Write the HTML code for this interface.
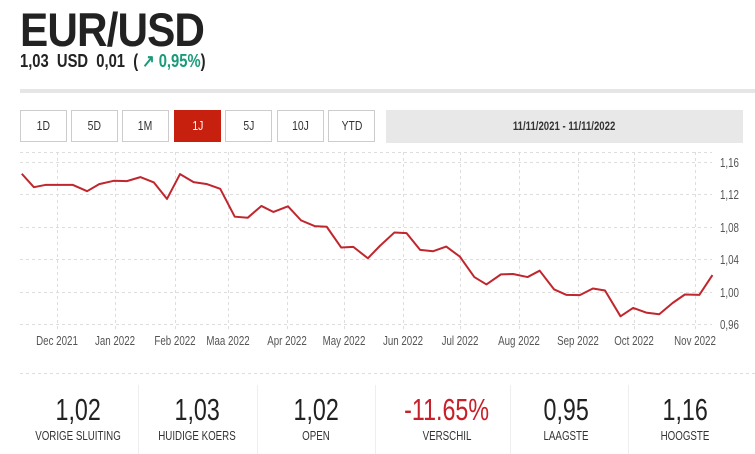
<!DOCTYPE html>
<html><head><meta charset="utf-8"><style>
body{margin:0;width:755px;height:454px;background:#fff;font-family:"Liberation Sans",sans-serif;color:#222;position:relative;overflow:hidden}
.a{position:absolute;white-space:nowrap}
.c{display:inline-block;transform-origin:0 0}
.btn{position:absolute;top:110px;height:32px;width:47px;border:1px solid #ccc;box-sizing:border-box;font-size:13px;text-align:center;line-height:30px;color:#333}
.btn span{display:inline-block;transform:scaleX(.8)}
.st{position:absolute;top:392px;width:118px;text-align:center}
.st .v{font-size:31px;transform:scaleX(.75);display:inline-block;color:#222}
.st .l{font-size:13px;transform:scaleX(.75);display:block;margin-top:0px;color:#333}
.dv{position:absolute;top:385px;height:69px;width:1px;background:#eee}
</style></head><body>
<div class="a" style="left:20px;top:2px;font-size:47px;font-weight:bold;letter-spacing:-1px"><span class="c" style="transform:scaleX(.9)">EUR/USD</span></div>
<div class="a" style="left:20px;top:51px;font-size:18px;font-weight:bold"><span class="c" style="transform:scaleX(.82)">1,03&nbsp; USD&nbsp; 0,01&nbsp; ( <span style="color:#1a9a7a">↗ 0,95%</span>)</span></div>
<div class="a" style="left:20px;top:89px;width:735px;height:4px;background:#e6e6e6"></div>
<div class="btn" style="left:20px"><span>1D</span></div>
<div class="btn" style="left:71px"><span>5D</span></div>
<div class="btn" style="left:122px"><span>1M</span></div>
<div class="btn" style="left:174px;background:#c8200f;border-color:#c8200f;color:#fff"><span>1J</span></div>
<div class="btn" style="left:225px"><span>5J</span></div>
<div class="btn" style="left:277px"><span>10J</span></div>
<div class="btn" style="left:328px"><span>YTD</span></div>
<div class="a" style="left:386px;top:110px;width:357px;height:33px;background:#e8e8e8;text-align:center;line-height:33px;font-size:12px;font-weight:bold;color:#333"><span class="c" style="transform:scaleX(.8);transform-origin:50% 50%">11/11/2021 - 11/11/2022</span></div>
<svg class="a" style="left:0;top:0" width="755" height="454">
<g stroke="#ddd" stroke-dasharray="3,3" stroke-width="1">
<line x1="20" x2="712" y1="152.5" y2="152.5"/>
<line x1="20" x2="712" y1="162.5" y2="162.5"/><line x1="20" x2="712" y1="194.5" y2="194.5"/><line x1="20" x2="712" y1="227.5" y2="227.5"/><line x1="20" x2="712" y1="259.5" y2="259.5"/><line x1="20" x2="712" y1="292.5" y2="292.5"/><line x1="20" x2="712" y1="324.5" y2="324.5"/>
<line x1="57.5" x2="57.5" y1="152" y2="330"/><line x1="115.5" x2="115.5" y1="152" y2="330"/><line x1="175.5" x2="175.5" y1="152" y2="330"/><line x1="228.5" x2="228.5" y1="152" y2="330"/><line x1="287.5" x2="287.5" y1="152" y2="330"/><line x1="344.5" x2="344.5" y1="152" y2="330"/><line x1="403.5" x2="403.5" y1="152" y2="330"/><line x1="460.5" x2="460.5" y1="152" y2="330"/><line x1="519.5" x2="519.5" y1="152" y2="330"/><line x1="578.5" x2="578.5" y1="152" y2="330"/><line x1="634.5" x2="634.5" y1="152" y2="330"/><line x1="695.5" x2="695.5" y1="152" y2="330"/>
<line x1="20" x2="755" y1="373.5" y2="373.5"/>
</g>
<g transform="matrix(0.484 0 0 0.3354 0 148.6)">
<polyline fill="none" stroke="#c0262d" stroke-width="2" vector-effect="non-scaling-stroke" stroke-linejoin="round" points="45,75 70,115 95,108 150,108 180,127 205,106 235,96 262,97 290,85 318,101 345,150 372,76 400,100 428,106 455,120 485,203 512,206 540,171 565,189 595,172 622,214 650,231 675,233 705,295 730,293 760,327 785,290 815,250 840,252 868,302 895,306 922,292 950,322 980,383 1005,405 1035,375 1060,374 1090,383 1115,364 1145,420 1170,436 1198,437 1225,417 1250,423 1282,500 1308,475 1335,489 1362,494 1390,460 1415,435 1445,436 1472,377"/>
</g>
<g font-size="13" fill="#555" font-family="Liberation Sans, sans-serif">
<g transform="translate(720,0) scale(.75,1)"><text x="0" y="167">1,16</text><text x="0" y="199">1,12</text><text x="0" y="232">1,08</text><text x="0" y="264">1,04</text><text x="0" y="297">1,00</text><text x="0" y="329">0,96</text></g>
</g>
<g font-size="13" fill="#555" text-anchor="middle" font-family="Liberation Sans, sans-serif">
<g transform="translate(57,345) scale(.75,1)"><text>Dec 2021</text></g>
<g transform="translate(115,345) scale(.75,1)"><text>Jan 2022</text></g>
<g transform="translate(175,345) scale(.75,1)"><text>Feb 2022</text></g>
<g transform="translate(228,345) scale(.75,1)"><text>Maa 2022</text></g>
<g transform="translate(287,345) scale(.75,1)"><text>Apr 2022</text></g>
<g transform="translate(344,345) scale(.75,1)"><text>May 2022</text></g>
<g transform="translate(403,345) scale(.75,1)"><text>Jun 2022</text></g>
<g transform="translate(460,345) scale(.75,1)"><text>Jul 2022</text></g>
<g transform="translate(519,345) scale(.75,1)"><text>Aug 2022</text></g>
<g transform="translate(578,345) scale(.75,1)"><text>Sep 2022</text></g>
<g transform="translate(634,345) scale(.75,1)"><text>Oct 2022</text></g>
<g transform="translate(695,345) scale(.75,1)"><text>Nov 2022</text></g>
</g>
</svg>
<div class="dv" style="left:138px"></div><div class="dv" style="left:257px"></div><div class="dv" style="left:375px"></div><div class="dv" style="left:510px"></div><div class="dv" style="left:628px"></div>
<div class="st" style="left:19px"><span class="v">1,02</span><span class="l">VORIGE SLUITING</span></div>
<div class="st" style="left:138px"><span class="v">1,03</span><span class="l">HUIDIGE KOERS</span></div>
<div class="st" style="left:257px"><span class="v">1,02</span><span class="l">OPEN</span></div>
<div class="st" style="left:388px"><span class="v" style="color:#c8202a">-11.65%</span><span class="l">VERSCHIL</span></div>
<div class="st" style="left:507px"><span class="v">0,95</span><span class="l">LAAGSTE</span></div>
<div class="st" style="left:626px"><span class="v">1,16</span><span class="l">HOOGSTE</span></div>
</body></html>
